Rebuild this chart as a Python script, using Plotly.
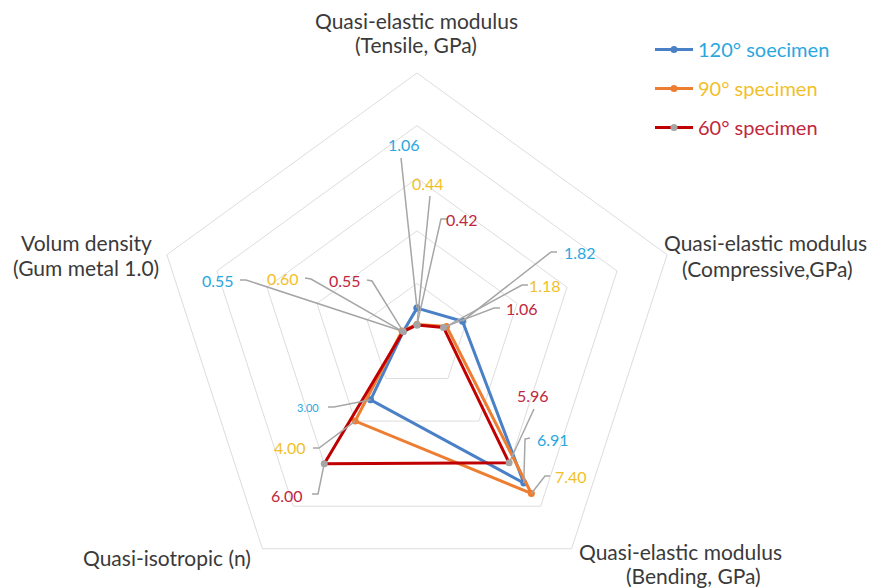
import math
import plotly.graph_objects as go

# ---------------- data ----------------
categories = [
    "Quasi-elastic modulus (Tensile, GPa)",
    "Quasi-elastic modulus (Compressive,GPa)",
    "Quasi-elastic modulus (Bending, GPa)",
    "Quasi-isotropic (n)",
    "Volum density (Gum metal 1.0)",
]
category_title_lines = [
    ["Quasi-elastic modulus", "(Tensile, GPa)"],
    ["Quasi-elastic modulus", "(Compressive,GPa)"],
    ["Quasi-elastic modulus", "(Bending, GPa)"],
    ["Quasi-isotropic (n)"],
    ["Volum density", "(Gum metal 1.0)"],
]
series_names = ["120° soecimen", "90° specimen", "60° specimen"]
v120 = [1.06, 1.82, 6.91, 3.00, 0.55]
v90 = [0.44, 1.18, 7.40, 4.00, 0.60]
v60 = [0.42, 1.06, 5.96, 6.00, 0.55]
radial_ticks = [2, 4, 6, 8, 10]

# ---------------- styles / layout geometry ----------------
W, H = 877, 600          # figure size (page body adds an 8px margin; the window crops the rest)
OFF = 8                   # body margin of the page
CX, CY, R = 417, 336, 263  # polar centre and radius in window pixels
RMAX = 10
line_colors = ["#4A80C6", "#ED7D31", "#C00000"]
marker_colors = ["#4A80C6", "#ED7D31", "#A5A5A5"]
text_colors = ["#2AA7E0", "#F2BF2A", "#C0273D"]
FONT = "Lato"

# data-label positions (window pixel centres) and leader-line elbow points
label_pos = [
    [(404, 145), (580, 252), (553, 439), (308, 407), (218, 280)],
    [(428, 183), (545, 285), (571, 476), (290, 448), (283, 278)],
    [(462, 219), (522, 308), (533, 395), (287, 495), (345, 280)],
]
label_size = [
    [16, 16, 16, 11, 16],
    [16, 16, 16, 16, 16],
    [16, 16, 16, 16, 16],
]
leader_pts = [
    [[(401, 158)], [(557, 252), (551, 252)], [(530, 438), (525, 439)], [(328, 407), (334, 407)], [(240, 280), (246, 280)]],
    [[(430, 196)], [(528, 285), (522, 285)], [(550, 476), (545, 476)], [(313, 448), (319, 448)], [(305, 278), (311, 279)]],
    [[(447, 219), (441, 219)], [(500, 308), (494, 308)], [(534, 409)], [(312, 494), (318, 494)], [(367, 280), (372, 281)]],
]
# centre of each title line (window pixels)
title_pos = [
    [(416, 20), (416, 45)],
    [(765, 243), (767, 268)],
    [(680, 551), (693, 575)],
    [(167, 557)],
    [(86, 243), (86, 267)],
]


def px(x):
    return (x - OFF) / W


def py(y):
    return 1 - (y - OFF) / H


def px_to_polar(x, y):
    dx, dy = x - CX, CY - y
    r = math.hypot(dx, dy) / R * RMAX
    th = math.degrees(math.atan2(dx, dy)) % 360
    return r, th


dom_x = [px(CX - R), px(CX + R)]
dom_y = [py(CY + R), py(CY - R)]

fig = go.Figure()

all_vals = [v120, v90, v60]
for i, vals in enumerate(all_vals):
    fig.add_trace(go.Scatterpolar(
        r=vals + vals[:1],
        theta=categories + categories[:1],
        mode="lines+markers",
        name=f"<span style='color:{text_colors[i]}'>{series_names[i]}</span>",
        legendgroup=f"g{i}",
        line=dict(color=line_colors[i], width=3),
        marker=dict(color=marker_colors[i], size=7),
        subplot="polar",
        hoverinfo="skip",
    ))

# leader lines (drawn in an overlaid numeric polar subplot)
n = len(categories)
annotations = []
for i, vals in enumerate(all_vals):
    for j, v in enumerate(vals):
        pts = [px_to_polar(*p) for p in leader_pts[i][j]]
        rs = [p[0] for p in pts] + [v]
        ths = [p[1] for p in pts] + [360.0 * j / n]
        fig.add_trace(go.Scatterpolar(
            r=rs, theta=ths, mode="lines",
            line=dict(color="#A6A6A6", width=1.5),
            subplot="polar2", showlegend=False, hoverinfo="skip",
        ))
        x, y = label_pos[i][j]
        annotations.append(dict(
            x=px(x), y=py(y), xref="paper", yref="paper",
            text=f"{v:.2f}", showarrow=False, xanchor="center", yanchor="middle",
            font=dict(family=FONT, size=label_size[i][j], color=text_colors[i]),
        ))

for j, lines in enumerate(category_title_lines):
    for k, t in enumerate(lines):
        x, y = title_pos[j][k]
        annotations.append(dict(
            x=px(x), y=py(y), xref="paper", yref="paper", text=t,
            showarrow=False, xanchor="center", yanchor="middle",
            font=dict(family=FONT, size=21, color="#3A3A3A"),
        ))

fig.update_layout(
    width=W, height=H, autosize=False,
    margin=dict(l=0, r=0, t=0, b=0),
    paper_bgcolor="white", plot_bgcolor="white",
    font=dict(family=FONT),
    polar=dict(
        domain=dict(x=dom_x, y=dom_y),
        gridshape="linear",
        bgcolor="rgba(0,0,0,0)",
        radialaxis=dict(range=[0, RMAX], tickvals=radial_ticks, showticklabels=False,
                        showline=False, ticks="", gridcolor="#DDDDDD", gridwidth=1),
        angularaxis=dict(rotation=90, direction="clockwise", showticklabels=False,
                         ticks="", showgrid=False, showline=True, linecolor="#DDDDDD", linewidth=1),
    ),
    polar2=dict(
        domain=dict(x=dom_x, y=dom_y),
        bgcolor="rgba(0,0,0,0)",
        radialaxis=dict(range=[0, RMAX], visible=False),
        angularaxis=dict(rotation=90, direction="clockwise", visible=False),
    ),
    legend=dict(
        x=px(650), y=py(30), xanchor="left", yanchor="top",
        font=dict(family=FONT, size=20),
        itemwidth=38,
        tracegroupgap=10, bgcolor="rgba(0,0,0,0)",
    ),
    annotations=annotations,
)

fig.write_html("out.html")
